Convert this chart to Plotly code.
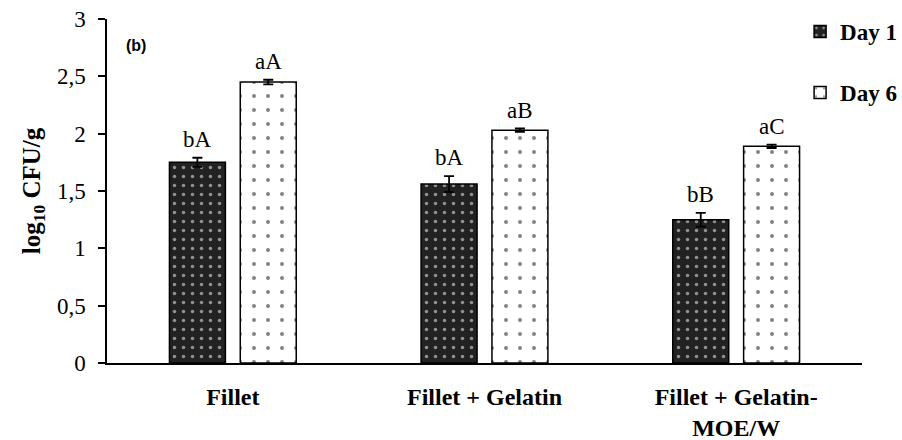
import plotly.graph_objects as go

categories = ["Fillet", "Fillet + Gelatin", "Fillet + Gelatin-<br>MOE/W"]
day1_values = [1.75, 1.56, 1.25]
day1_errors = [0.04, 0.07, 0.06]
day6_values = [2.45, 2.03, 1.89]
day6_errors = [0.02, 0.015, 0.015]
day1_letters = ["bA", "bA", "bB"]
day6_letters = ["aA", "aB", "aC"]
y_ticks = [0, 0.5, 1, 1.5, 2, 2.5, 3]

serif = "Liberation Serif, Times New Roman, serif"

fig = go.Figure()
fig.add_trace(go.Bar(
    name="Day 1", x=categories, y=day1_values, legendgroup="d1",
    error_y=dict(type="data", array=day1_errors, color="black", thickness=1.8, width=5),
    marker=dict(color="#222222", line=dict(color="black", width=1.5),
                pattern=dict(shape=".", fgcolor="white", bgcolor="#222222", size=9, solidity=0.12)),
))
fig.add_trace(go.Bar(
    name="Day 6", x=categories, y=day6_values, legendgroup="d6",
    error_y=dict(type="data", array=day6_errors, color="black", thickness=1.8, width=5),
    marker=dict(color="white", line=dict(color="black", width=1.5),
                pattern=dict(shape=".", fgcolor="black", bgcolor="white", size=14, solidity=0.06)),
))

# significance letters above each bar
for i, cat in enumerate(categories):
    fig.add_annotation(x=cat, y=day1_values[i] + day1_errors[i], text=day1_letters[i],
                       xshift=-35.5, yshift=4, showarrow=False, yanchor="bottom",
                       font=dict(family=serif, size=23, color="black"))
    fig.add_annotation(x=cat, y=day6_values[i] + day6_errors[i], text=day6_letters[i],
                       xshift=35.5, yshift=4, showarrow=False, yanchor="bottom",
                       font=dict(family=serif, size=23, color="black"))

fig.add_annotation(x=(136 - 107) / 755, y=(363 - 45) / 344, xref="paper", yref="paper",
                   text="(b)", showarrow=False, xanchor="center", yanchor="middle",
                   font=dict(family="Liberation Sans, Arial, sans-serif", size=16,
                             color="black", weight="bold"))

fig.update_layout(
    width=902, height=440,
    margin=dict(l=107, r=40, t=19, b=77, autoexpand=False),
    paper_bgcolor="white", plot_bgcolor="white",
    barmode="group", bargap=0.437, bargroupgap=0.21,
    separators=", ",
    showlegend=True,
    legend=dict(x=0.918, y=1.026, xanchor="left", yanchor="top",
                font=dict(family=serif, size=23, color="black", weight="bold"),
                traceorder="grouped", tracegroupgap=28, itemwidth=30,
                bgcolor="rgba(0,0,0,0)", groupclick="toggleitem"),
    xaxis=dict(showline=True, linecolor="black", linewidth=1.5, ticks="",
               ticklabelstandoff=11, automargin=False,
               tickfont=dict(family=serif, size=24, color="black", weight="bold")),
    yaxis=dict(range=[0, 3], tickvals=y_ticks, showline=True, linecolor="black", linewidth=1.5,
               ticks="outside", ticklen=7, tickwidth=1.5, tickcolor="black",
               showgrid=False, zeroline=False, ticklabelstandoff=8, automargin=False,
               tickfont=dict(family=serif, size=23, color="black"),
               title=dict(text="log<sub>10</sub> CFU/g", standoff=9,
                          font=dict(family=serif, size=25, color="black", weight="bold"))),
)

fig.write_html("out.html")
